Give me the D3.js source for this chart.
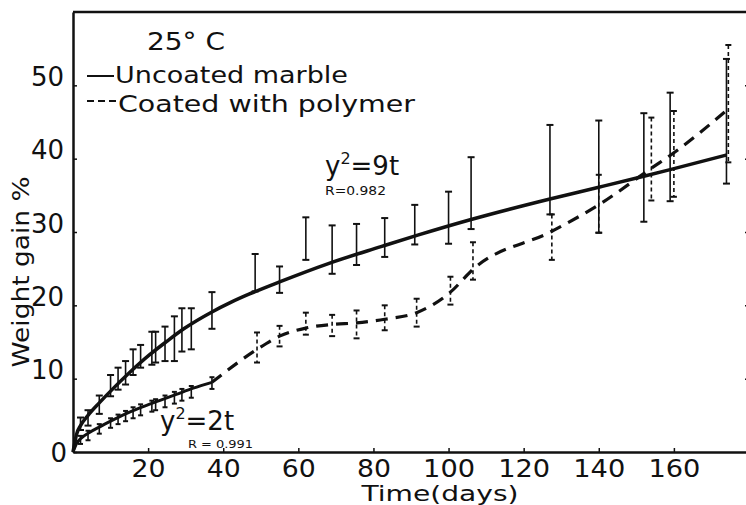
<!DOCTYPE html>
<html>
<head>
<meta charset="utf-8">
<style>
  body { margin: 0; background: #fff; }
  text { font-family: "DejaVu Sans", sans-serif; fill: #111; }
</style>
<script src="https://cdn.jsdelivr.net/npm/d3@7"></script>
</head>
<body>
<div id="chart"></div>
<script>
// ---- data ----
var xTicks = [20, 40, 60, 80, 100, 120, 140, 160];
var yTicks = [0, 10, 20, 30, 40, 50];

// uncoated marble: error bars
var uncDays = [2, 4, 7, 10, 12, 14, 16, 18, 21, 22, 24.5, 27, 29, 31.5, 37, 48.5, 55, 62, 69, 75.5, 83, 91, 100, 106, 127, 140, 152, 159, 174];
var uncHigh = [4.7, 5.7, 7.7, 10.5, 11.5, 12.4, 14.0, 14.6, 16.4, 16.4, 17.1, 18.5, 19.6, 19.6, 21.8, 27.0, 25.3, 32.0, 30.9, 31.1, 31.9, 33.7, 35.5, 40.2, 44.6, 45.2, 46.2, 49.0, 53.6];
var uncLow = [3.0, 3.6, 5.2, 7.6, 8.5, 9.2, 10.5, 11.5, 11.9, 12.2, 12.4, 12.4, 13.7, 14.0, 16.8, 21.9, 21.7, 26.2, 24.3, 25.5, 26.6, 28.3, 28.4, 30.4, 32.4, 29.9, 31.4, 34.2, 36.6];
// uncoated marble: fitted curve y^2 = 9t
var uncCurveDays = [0, 1, 2, 4, 7, 10, 15, 20.5, 25, 29.5, 37, 42, 47, 55, 68, 82, 92, 106, 127, 140, 152, 159, 174];
var uncCurveVals = [0, 2.5, 3.6, 5.0, 6.7, 8.3, 10.8, 13.3, 15.1, 16.8, 19.1, 20.4, 21.55, 23.2, 25.7, 28.0, 29.6, 31.7, 34.5, 36.1, 37.6, 38.5, 40.5];

// coated with polymer: means and error bars
var coatDays = [2, 4, 7, 10, 12, 14, 16, 18, 21, 22, 24.5, 27, 29, 31.5, 37, 49, 55, 62, 69, 75.5, 83, 91.5, 100.5, 106.5, 127.5, 140, 154, 160, 174.5];
var coatMean = [1.8, 2.5, 3.4, 4.2, 4.7, 5.2, 5.65, 6.05, 6.6, 6.8, 7.3, 7.75, 8.15, 8.6, 9.5, 14.0, 15.8, 16.9, 17.4, 17.6, 18.1, 19.0, 21.8, 24.9, 30.1, 33.7, 38.7, 40.8, 46.8];
var coatHigh = [2.2, 2.9, 3.8, 4.6, 5.1, 5.6, 6.1, 6.5, 7.0, 7.2, 7.7, 8.2, 8.6, 9.0, 10.2, 16.3, 17.2, 19.0, 18.7, 19.3, 20.0, 20.9, 23.9, 28.6, 32.4, 37.8, 45.6, 46.5, 55.5];
var coatLow = [1.1, 1.6, 2.5, 3.3, 3.8, 4.2, 4.6, 5.0, 5.5, 5.7, 6.1, 6.6, 7.0, 7.4, 8.6, 12.2, 14.4, 16.0, 15.8, 15.5, 16.6, 17.1, 20.1, 23.5, 26.2, 29.9, 34.3, 34.8, 39.5];
// coated: fitted curve y^2 = 2t (first 37 days)
var fitDays = [0, 1, 2, 4.5, 7, 10, 14, 17, 18.5, 23, 27.5, 32, 37];
var fitVals = [0, 1.2, 1.8, 2.7, 3.4, 4.2, 5.2, 5.85, 6.15, 7.0, 7.85, 8.7, 9.5];

// ---- layout ----
var W = 746, H = 505;
var svg = d3.select("#chart").append("svg")
    .attr("width", W)
    .attr("height", H);

var x = d3.scaleLinear().domain([0, 180]).range([73, 749]);
var y = d3.scaleLinear().domain([0, 60]).range([452, 12]);

// frame top
svg.append("line")
    .attr("x1", x(0)).attr("x2", x(180))
    .attr("y1", y(60)).attr("y2", y(60))
    .attr("stroke", "#111").attr("stroke-width", 2.5);

// axes
var gx = svg.append("g")
    .attr("transform", "translate(0," + y(0) + ")")
    .call(d3.axisBottom(x).tickValues(xTicks).tickSize(-4).tickSizeOuter(0).tickPadding(8));
var gy = svg.append("g")
    .attr("transform", "translate(" + x(0) + ",0)")
    .call(d3.axisLeft(y).tickValues(yTicks).tickSize(-4).tickSizeOuter(0).tickPadding(10));
var gr = svg.append("g")
    .attr("transform", "translate(" + x(180) + ",0)")
    .call(d3.axisRight(y).tickValues([10, 20, 30, 40, 50]).tickSize(-4).tickSizeOuter(0).tickFormat(""));

[gx, gy, gr].forEach(function(g) {
    g.select(".domain").attr("stroke", "#111").attr("stroke-width", 2.5);
    g.selectAll(".tick line").attr("stroke", "#111").attr("stroke-width", 1.5);
});
gx.selectAll(".tick text")
    .attr("font-size", 24)
    .attr("font-family", "DejaVu Sans")
    .attr("fill", "#111")
    .attr("textLength", function(d) { return d >= 100 ? 52 : 34; })
    .attr("lengthAdjust", "spacingAndGlyphs");
gy.selectAll(".tick text")
    .attr("font-size", 26)
    .attr("font-family", "DejaVu Sans")
    .attr("fill", "#111")
    .attr("dy", function(d) { return d === 0 ? "0.35em" : "0"; })
    .attr("x", function(d) { return d === 0 ? -6 : -9; });

// axis titles
svg.append("text")
    .attr("x", 440).attr("y", 501)
    .attr("text-anchor", "middle")
    .attr("font-size", 22)
    .attr("textLength", 157)
    .attr("lengthAdjust", "spacingAndGlyphs")
    .text("Time(days)");
svg.append("text")
    .attr("transform", "translate(29,272) rotate(-90)")
    .attr("text-anchor", "middle")
    .attr("font-size", 23)
    .attr("textLength", 191)
    .attr("lengthAdjust", "spacingAndGlyphs")
    .text("Weight gain %");

// ---- error bars ----
function errorBars(days, lo, hi, from, to, dashed, cap) {
    var g = svg.append("g")
        .attr("stroke", "#111")
        .attr("stroke-width", 1.6)
        .attr("fill", "none");
    for (var i = from; i < to; i++) {
        var cx = x(days[i]);
        g.append("line")
            .attr("x1", cx).attr("x2", cx)
            .attr("y1", y(hi[i])).attr("y2", y(lo[i]))
            .attr("stroke-dasharray", dashed ? "4,3" : null);
        [hi[i], lo[i]].forEach(function(v) {
            g.append("line")
                .attr("x1", cx - cap).attr("x2", cx + cap)
                .attr("y1", y(v)).attr("y2", y(v))
                .attr("stroke-width", 2);
        });
    }
}

errorBars(uncDays, uncLow, uncHigh, 0, uncDays.length, false, 3.5);
errorBars(coatDays, coatLow, coatHigh, 0, 15, false, 2.5);
errorBars(coatDays, coatLow, coatHigh, 15, coatDays.length, true, 3);

// ---- lines ----
var line = d3.line()
    .x(function(d) { return x(d[0]); })
    .y(function(d) { return y(d[1]); })
    .curve(d3.curveMonotoneX);

svg.append("path")
    .attr("d", line(d3.zip(uncCurveDays, uncCurveVals)))
    .attr("fill", "none")
    .attr("stroke", "#111")
    .attr("stroke-width", 3.5);

svg.append("path")
    .attr("d", line(d3.zip(fitDays, fitVals)))
    .attr("fill", "none")
    .attr("stroke", "#111")
    .attr("stroke-width", 3);

var dashed = d3.zip(coatDays, coatMean).slice(14);
svg.append("path")
    .attr("d", line(dashed))
    .attr("fill", "none")
    .attr("stroke", "#111")
    .attr("stroke-width", 3.2)
    .attr("stroke-dasharray", "12,8");

// ---- legend and labels ----
svg.append("text")
    .attr("x", 147).attr("y", 50)
    .attr("font-size", 25)
    .attr("textLength", 78)
    .attr("lengthAdjust", "spacingAndGlyphs")
    .text("25° C");

svg.append("line")
    .attr("x1", 87).attr("x2", 114).attr("y1", 76).attr("y2", 76)
    .attr("stroke", "#111").attr("stroke-width", 2);
svg.append("text")
    .attr("x", 115).attr("y", 83)
    .attr("font-size", 23)
    .attr("textLength", 233)
    .attr("lengthAdjust", "spacingAndGlyphs")
    .text("Uncoated marble");

svg.append("line")
    .attr("x1", 87).attr("x2", 117).attr("y1", 101).attr("y2", 101)
    .attr("stroke", "#111").attr("stroke-width", 2)
    .attr("stroke-dasharray", "7,4");
svg.append("text")
    .attr("x", 118).attr("y", 112)
    .attr("font-size", 23)
    .attr("textLength", 297)
    .attr("lengthAdjust", "spacingAndGlyphs")
    .text("Coated with polymer");

function equation(px, py, num, r, rx, ry, rsize, rlen) {
    var t = svg.append("text")
        .attr("x", px).attr("y", py)
        .attr("font-size", 26);
    t.append("tspan").text("y");
    t.append("tspan").attr("font-size", 16).attr("dy", -11).text("2");
    t.append("tspan").attr("dy", 11).text("=" + num + "t");
    svg.append("text")
        .attr("x", rx).attr("y", ry)
        .attr("font-size", rsize)
        .attr("textLength", rlen)
        .attr("lengthAdjust", "spacingAndGlyphs")
        .text(r);
}
equation(325, 175, "9", "R=0.982", 325, 195, 13, 61);
equation(160, 430, "2", "R = 0.991", 188, 448, 11, 65);
</script>
</body>
</html>
